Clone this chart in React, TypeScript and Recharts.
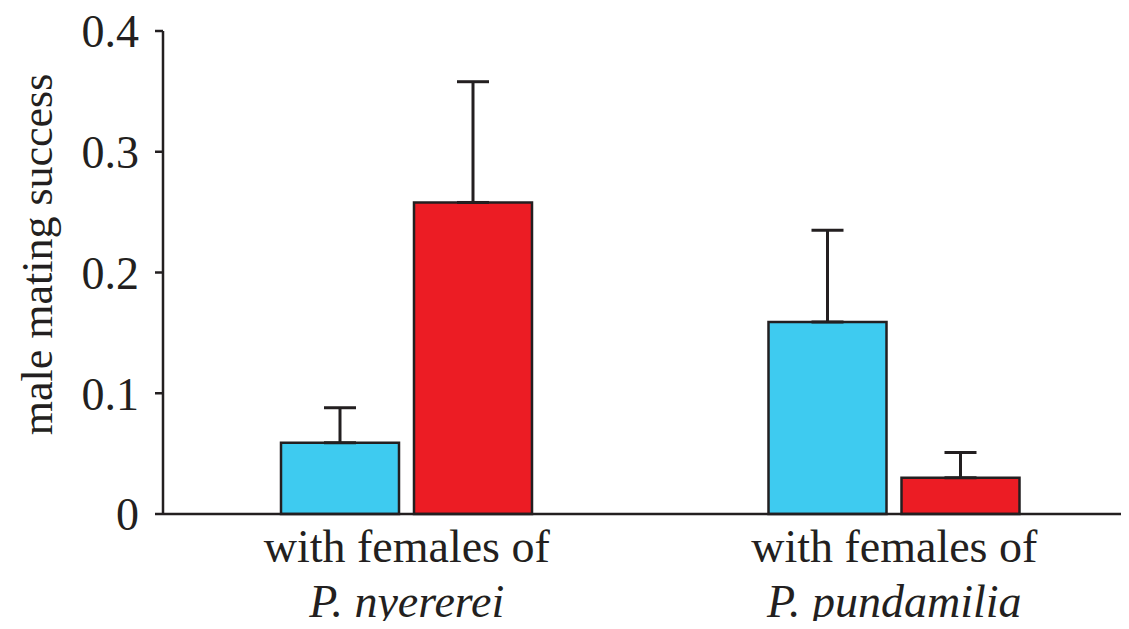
import { BarChart, Bar, XAxis, YAxis, ErrorBar } from "recharts"

// ── data ──────────────────────────────────────────────────────────────────────

const categories = ["P. nyererei", "P. pundamilia"]
const line1 = "with females of"
const blueValues = [0.059, 0.159]
const blueErr = [0.029, 0.076]
const redValues = [0.258, 0.03]
const redErr = [0.1, 0.021]
const yTicks = [0, 0.1, 0.2, 0.3, 0.4]

const C = {
  ink: "#231f20",
  blue: "#3ecbf0",
  red: "#ec1c24",
}
const FONT = "'Liberation Serif', 'Times New Roman', serif"

const data = categories.map((c, i) => ({
  cat: c,
  blue: blueValues[i],
  blueErr: [0, blueErr[i]],
  red: redValues[i],
  redErr: [0, redErr[i]],
}))

// ── custom axis bits ──────────────────────────────────────────────────────────

function CatTick({ x, y, payload }: any) {
  return (
    <g>
      <text x={x} y={y} dy={40} textAnchor="middle" fontFamily={FONT} fontSize={46} fill={C.ink}>
        {line1}
      </text>
      <text x={x} y={y} dy={95} textAnchor="middle" fontFamily={FONT} fontSize={46} fill={C.ink} fontStyle="italic">
        {payload.value}
      </text>
    </g>
  )
}

function YLabel({ viewBox }: any) {
  const cx = 37
  const cy = viewBox.y + viewBox.height / 2 - 18
  return (
    <text
      x={cx}
      y={cy}
      transform={`rotate(-90 ${cx} ${cy})`}
      textAnchor="middle"
      dominantBaseline="central"
      fontFamily={FONT}
      fontSize={44}
      fill={C.ink}
    >
      male mating success
    </text>
  )
}

export default function App() {
  return (
    <div style={{ margin: -8, width: 1129, height: 629, overflow: "hidden", background: "#fff" }}>
      <BarChart
        width={1138}
        height={629}
        data={data}
        margin={{ top: 31, right: 0, bottom: 0, left: 0 }}
        barSize={118}
        barGap={15}
      >
        <XAxis
          dataKey="cat"
          height={115}
          tickLine={false}
          axisLine={{ stroke: C.ink, strokeWidth: 2.5 }}
          tick={<CatTick />}
          interval={0}
        />
        <YAxis
          width={163}
          domain={[0, 0.4]}
          ticks={yTicks}
          tickSize={8}
          tickLine={{ stroke: C.ink, strokeWidth: 2.5 }}
          axisLine={{ stroke: C.ink, strokeWidth: 2.5 }}
          tick={{ fill: C.ink, fontSize: 46, fontFamily: FONT }}
          tickMargin={16}
          label={<YLabel />}
        />
        <Bar dataKey="blue" fill={C.blue} stroke={C.ink} strokeWidth={2.5} isAnimationActive={false}>
          <ErrorBar dataKey="blueErr" width={16} stroke={C.ink} strokeWidth={3} direction="y" />
        </Bar>
        <Bar dataKey="red" fill={C.red} stroke={C.ink} strokeWidth={2.5} isAnimationActive={false}>
          <ErrorBar dataKey="redErr" width={16} stroke={C.ink} strokeWidth={3} direction="y" />
        </Bar>
      </BarChart>
    </div>
  )
}
